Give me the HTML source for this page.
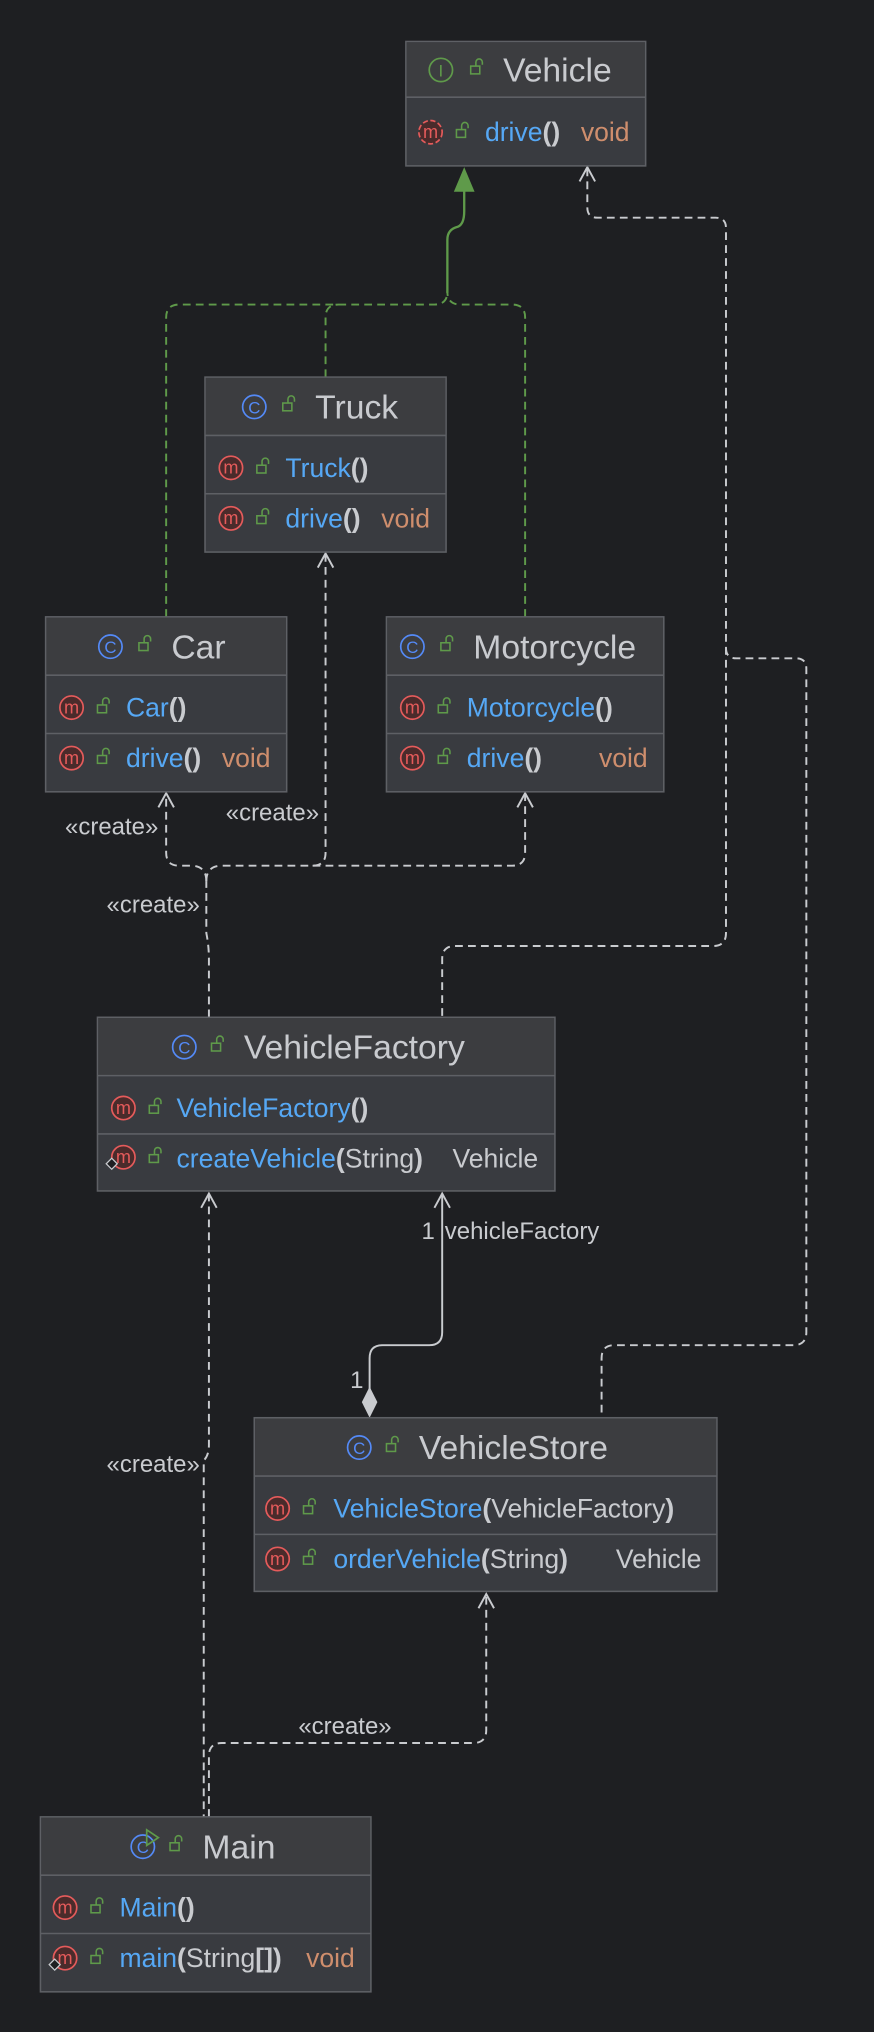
<!DOCTYPE html>
<html><head><meta charset="utf-8"><style>
html,body{margin:0;padding:0;background:#1e1f22;}
svg{display:block}
text{font-family:"Liberation Sans","DejaVu Sans",sans-serif;}
.t{font-size:26px;fill:#c9cbcf}
.r{font-size:20.5px;fill:#c9cbcf}
.b{fill:#56a8f5}
.p{font-weight:bold;fill:#c9cbcf}
.o{fill:#cf8e6d}
.lbl{font-size:18.5px;fill:#c9cbcf}
.box{fill:#393b40;stroke:#5e6065;stroke-width:1.2}
.hd{fill:#3c3d40}
.sep{stroke:#5e6065;stroke-width:1.2}
.dash{fill:none;stroke:#c9cbcf;stroke-width:1.5;stroke-dasharray:6,4}
.gdash{fill:none;stroke:#5f9a4a;stroke-width:1.5;stroke-dasharray:6,4}
.arr{fill:none;stroke:#c9cbcf;stroke-width:1.5}
</style></head><body>
<svg width="874" height="2032" viewBox="0 0 674 1568" xmlns="http://www.w3.org/2000/svg">
<defs>
<g id="lock"><rect x="0" y="5" width="7" height="6" fill="none" stroke="#5f9a4a" stroke-width="1.2"/><path d="M4 5 V2 a2.5 2.5 0 0 1 5 0 V4" fill="none" stroke="#5f9a4a" stroke-width="1.2"/></g>
<g id="m"><circle cx="0" cy="0" r="9" fill="#4a2b2b" stroke="#e55b5b" stroke-width="1.3"/><text x="0" y="4.5" text-anchor="middle" style="font-size:14px;fill:#e55b5b">m</text></g>
<g id="c"><circle cx="0" cy="0" r="9" fill="none" stroke="#548af7" stroke-width="1.3"/><text x="0" y="5" text-anchor="middle" style="font-size:13px;fill:#548af7">C</text></g>
</defs>

<path class="gdash" d="M128 476 V245 q0-10 10-10 H335 q10 0 10-10"/>
<path class="gdash" d="M251 291 V245 q0-10 10-10"/>
<path class="gdash" d="M405 476 V245 q0-10 -10-10 H355 q-10 0 -10-10"/>
<path d="M345 226 V185 q0-8 8-10 q5-2 5-12 V145" fill="none" stroke="#5f9a4a" stroke-width="1.8"/>
<polygon points="358,129 350,148 366,148" fill="#5f9a4a"/>

<path class="dash" d="M453 130 V160 q0 8 8 8 H552 q8 0 8 8 V720 q0 10 -10 10 H351 q-10 0 -10 10 V785"/>
<path class="dash" d="M560 500 q0 8 8 8 H614 q8 0 8 8 V1028 q0 10 -10 10 H474 q-10 0 -10 10 V1094"/>
<path class="arr" d="M447 140 L453 129 L459 140"/>

<path class="dash" d="M161 785 V740 q0-10 -2-20 V680"/>
<path class="dash" d="M159 680 q0-12 -12-12 H138 q-10 0 -10-10 V613"/>
<path class="dash" d="M159 680 q0-12 12-12 H241 q10 0 10-10 V428"/>
<path class="dash" d="M241 668 H395 q10 0 10-10 V613"/>
<path class="arr" d="M122 623 L128 612 L134 623"/>
<path class="arr" d="M245 438 L251 427 L257 438"/>
<path class="arr" d="M399 623 L405 612 L411 623"/>
<text class="lbl" x="50" y="644">«create»</text>
<text class="lbl" x="174" y="633">«create»</text>
<text class="lbl" x="82" y="704">«create»</text>

<path class="arr" d="M341 921 V1028 q0 10 -10 10 H295 q-10 0 -10 10 V1072"/>
<path class="arr" d="M335 932 L341 921 L347 932"/>
<polygon points="285,1070 291,1082 285,1094 279,1082" fill="#c9cbcf"/>
<text class="lbl" x="325" y="956">1</text>
<text class="lbl" x="343" y="956">vehicleFactory</text>
<text class="lbl" x="270" y="1071">1</text>

<path class="dash" d="M161 921 V1115 q0 8 -4 12 V1402"/>
<path class="arr" d="M155 932 L161 921 L167 932"/>
<path class="dash" d="M161 1402 V1355 q0-10 10-10 H365 q10 0 10-10 V1230"/>
<path class="arr" d="M369 1241 L375 1230 L381 1241"/>
<text class="lbl" x="82" y="1136">«create»</text>
<text class="lbl" x="230" y="1338">«create»</text>

<!-- Vehicle -->
<rect class="box" x="313" y="32" width="185" height="96"/>
<rect class="hd" x="313.6" y="32.6" width="183.8" height="42"/>
<line class="sep" x1="313" y1="75" x2="498" y2="75"/>
<circle cx="340" cy="54" r="9" fill="none" stroke="#5f9a4a" stroke-width="1.3"/><text x="340" y="59" text-anchor="middle" style="font-size:13px;fill:#5f9a4a">I</text>
<use href="#lock" x="363" y="46"/>
<text class="t" x="388" y="63">Vehicle</text>
<circle cx="332" cy="102" r="9" fill="#4a2b2b" stroke="#e55b5b" stroke-width="1.3" stroke-dasharray="4,2"/><text x="332" y="106.5" text-anchor="middle" style="font-size:14px;fill:#e55b5b">m</text>
<use href="#lock" x="352" y="95"/>
<text class="r" x="374" y="109"><tspan class="b">drive</tspan><tspan class="p">()</tspan></text>
<text class="r o" x="448" y="109">void</text>

<!-- Truck -->
<rect class="box" x="158" y="291" width="186" height="135"/>
<rect class="hd" x="158.6" y="291.6" width="184.8" height="44"/>
<line class="sep" x1="158" y1="336" x2="344" y2="336"/>
<line class="sep" x1="158" y1="381" x2="344" y2="381"/>
<use href="#c" x="196" y="314"/><use href="#lock" x="218" y="306"/>
<text class="t" x="243" y="323">Truck</text>
<use href="#m" x="178" y="361"/><use href="#lock" x="198" y="354"/>
<text class="r" x="220" y="368"><tspan class="b">Truck</tspan><tspan class="p">()</tspan></text>
<use href="#m" x="178" y="400"/><use href="#lock" x="198" y="393"/>
<text class="r" x="220" y="407"><tspan class="b">drive</tspan><tspan class="p">()</tspan></text>
<text class="r o" x="294" y="407">void</text>

<!-- Car -->
<rect class="box" x="35" y="476" width="186" height="135"/>
<rect class="hd" x="35.6" y="476.6" width="184.8" height="44"/>
<line class="sep" x1="35" y1="521" x2="221" y2="521"/>
<line class="sep" x1="35" y1="566" x2="221" y2="566"/>
<use href="#c" x="85" y="499"/><use href="#lock" x="107" y="491"/>
<text class="t" x="132" y="508">Car</text>
<use href="#m" x="55" y="546"/><use href="#lock" x="75" y="539"/>
<text class="r" x="97" y="553"><tspan class="b">Car</tspan><tspan class="p">()</tspan></text>
<use href="#m" x="55" y="585"/><use href="#lock" x="75" y="578"/>
<text class="r" x="97" y="592"><tspan class="b">drive</tspan><tspan class="p">()</tspan></text>
<text class="r o" x="171" y="592">void</text>

<!-- Motorcycle -->
<rect class="box" x="298" y="476" width="214" height="135"/>
<rect class="hd" x="298.6" y="476.6" width="212.8" height="44"/>
<line class="sep" x1="298" y1="521" x2="512" y2="521"/>
<line class="sep" x1="298" y1="566" x2="512" y2="566"/>
<use href="#c" x="318" y="499"/><use href="#lock" x="340" y="491"/>
<text class="t" x="365" y="508">Motorcycle</text>
<use href="#m" x="318" y="546"/><use href="#lock" x="338" y="539"/>
<text class="r" x="360" y="553"><tspan class="b">Motorcycle</tspan><tspan class="p">()</tspan></text>
<use href="#m" x="318" y="585"/><use href="#lock" x="338" y="578"/>
<text class="r" x="360" y="592"><tspan class="b">drive</tspan><tspan class="p">()</tspan></text>
<text class="r o" x="462" y="592">void</text>

<!-- VehicleFactory -->
<rect class="box" x="75" y="785" width="353" height="134"/>
<rect class="hd" x="75.6" y="785.6" width="351.8" height="44"/>
<line class="sep" x1="75" y1="830" x2="428" y2="830"/>
<line class="sep" x1="75" y1="875" x2="428" y2="875"/>
<use href="#c" x="142" y="808"/><use href="#lock" x="163" y="800"/>
<text class="t" x="188" y="817">VehicleFactory</text>
<use href="#m" x="95" y="855"/><use href="#lock" x="115" y="848"/>
<text class="r" x="136" y="862"><tspan class="b">VehicleFactory</tspan><tspan class="p">()</tspan></text>
<use href="#m" x="95" y="893"/><use href="#lock" x="115" y="886"/>
<rect x="83" y="895" width="6" height="6" transform="rotate(45 86 898)" fill="#1e1f22" stroke="#c9cbcf" stroke-width="1"/>
<text class="r" x="136" y="901"><tspan class="b">createVehicle</tspan><tspan class="p">(</tspan>String<tspan class="p">)</tspan></text>
<text class="r" x="349" y="901">Vehicle</text>

<!-- VehicleStore -->
<rect class="box" x="196" y="1094" width="357" height="134"/>
<rect class="hd" x="196.6" y="1094.6" width="355.8" height="44"/>
<line class="sep" x1="196" y1="1139" x2="553" y2="1139"/>
<line class="sep" x1="196" y1="1184" x2="553" y2="1184"/>
<use href="#c" x="277" y="1117"/><use href="#lock" x="298" y="1109"/>
<text class="t" x="323" y="1126">VehicleStore</text>
<use href="#m" x="214" y="1164"/><use href="#lock" x="234" y="1157"/>
<text class="r" x="257" y="1171"><tspan class="b">VehicleStore</tspan><tspan class="p">(</tspan>VehicleFactory<tspan class="p">)</tspan></text>
<use href="#m" x="214" y="1203"/><use href="#lock" x="234" y="1196"/>
<text class="r" x="257" y="1210"><tspan class="b">orderVehicle</tspan><tspan class="p">(</tspan>String<tspan class="p">)</tspan></text>
<text class="r" x="475" y="1210">Vehicle</text>

<!-- Main -->
<rect class="box" x="31" y="1402" width="255" height="135"/>
<rect class="hd" x="31.6" y="1402.6" width="253.8" height="44"/>
<line class="sep" x1="31" y1="1447" x2="286" y2="1447"/>
<line class="sep" x1="31" y1="1492" x2="286" y2="1492"/>
<use href="#c" x="110" y="1425"/><polygon points="113,1412 122,1418 113,1424" fill="none" stroke="#5f9a4a" stroke-width="1.3"/><use href="#lock" x="131" y="1417"/>
<text class="t" x="156" y="1434">Main</text>
<use href="#m" x="50" y="1472"/><use href="#lock" x="70" y="1465"/>
<text class="r" x="92" y="1479"><tspan class="b">Main</tspan><tspan class="p">()</tspan></text>
<use href="#m" x="50" y="1511"/><use href="#lock" x="70" y="1504"/>
<rect x="39" y="1513" width="6" height="6" transform="rotate(45 42 1516)" fill="#1e1f22" stroke="#c9cbcf" stroke-width="1"/>
<text class="r" x="92" y="1518"><tspan class="b">main</tspan><tspan class="p">(</tspan>String<tspan class="p">[])</tspan></text>
<text class="r o" x="236" y="1518">void</text>
</svg>
</body></html>
